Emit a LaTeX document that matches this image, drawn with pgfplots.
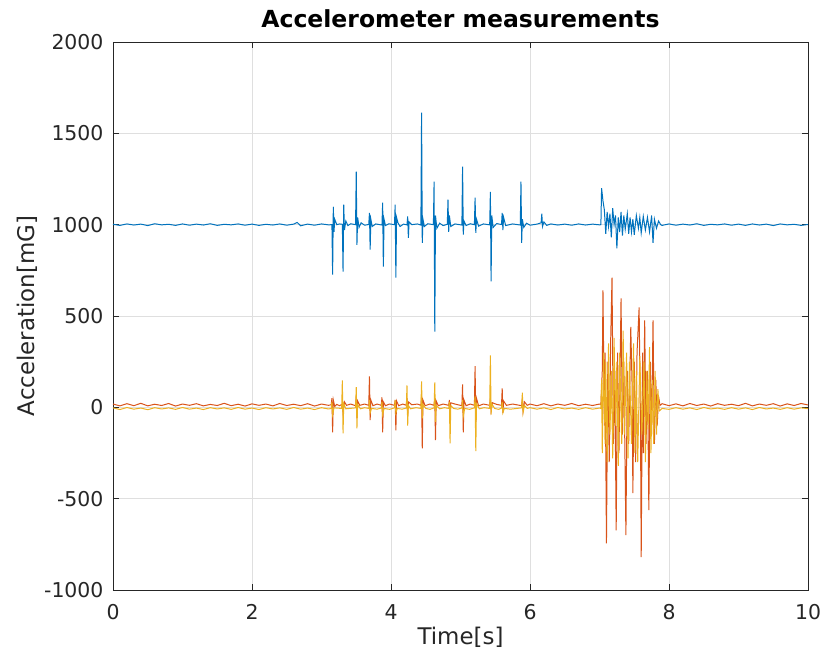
\documentclass[border=0pt]{standalone}
\usepackage{pgfplots}
\pgfplotsset{compat=1.18}
\usepackage{fontspec}
\setmainfont{DejaVu Sans}
\definecolor{mblue}{HTML}{0072BD}
\definecolor{morange}{HTML}{D95319}
\definecolor{myellow}{HTML}{EDB120}
\definecolor{axcol}{HTML}{262626}
\definecolor{gridcol}{HTML}{DFDFDF}
\begin{document}
\begin{tikzpicture}
\begin{axis}[
  scale only axis,
  width=695bp, height=548bp,
  xmin=0, xmax=10, ymin=-1000, ymax=2000,
  xtick={0,2,4,6,8,10}, xticklabels={0,2,4,6,8,10},
  ytick={-1000,-500,0,500,1000,1500,2000},
  yticklabels={-1000,-500,0,500,1000,1500,2000},
  tick align=inside, major tick length=6bp,
  xtick pos=both, ytick pos=both,
  grid=major,
  major grid style={gridcol, line width=0.7bp},
  axis line style={axcol, line width=0.9bp},
  every tick/.style={axcol, line width=0.9bp},
  tick label style={font=\fontsize{20.5}{24}\selectfont, text=axcol},
  yticklabel style={xshift=-6bp},
  xticklabel style={yshift=-11bp},
  label style={font=\fontsize{23}{26}\selectfont, text=axcol},
  xlabel={Time[s]}, ylabel={Acceleration[mG]},
  xlabel style={at={(axis description cs:0.5,-0.0858)}, anchor=center},
  ylabel style={at={(axis description cs:-0.1237,0.5)}, anchor=center, rotate=0},
  title={\textbf{Accelerometer measurements}},
  title style={at={(axis description cs:0.5,1.031)}, anchor=center, font=\fontsize{23.6}{26}\selectfont, text=black},
  clip=true,
]
\addplot[mblue, line width=1bp] coordinates {
(0,1002)(0.1,996)(0.2,1004)(0.3,998)(0.4,1003)(0.5,995)(0.6,1005)(0.7,999)(0.8,1002)(0.9,996)
(1.0,1004)(1.1,997)(1.2,1003)(1.3,998)(1.4,1005)(1.5,996)(1.6,1002)(1.7,999)(1.8,1004)(1.9,997)
(2.0,1003)(2.1,996)(2.2,1002)(2.3,998)(2.4,1004)(2.5,997)(2.6,1003)(2.65,1012)(2.7,994)(2.8,1003)(2.9,997)(3.0,1004)(3.1,999)
(3.15,1000)(3.16,726)(3.17,1098)(3.18,960)(3.19,1030)(3.22,1000)
(3.26,1004)(3.30,1002)(3.31,743)(3.32,1110)(3.33,970)(3.35,1020)(3.38,995)(3.42,1005)
(3.49,1000)(3.50,1290)(3.51,890)(3.52,1040)(3.54,985)(3.57,1010)(3.62,997)
(3.68,1001)(3.69,1065)(3.70,863)(3.71,1030)(3.73,990)(3.78,1004)
(3.87,998)(3.88,1120)(3.89,770)(3.90,1030)(3.92,995)(3.97,1005)
(4.05,1000)(4.06,1110)(4.07,710)(4.08,1040)(4.10,1010)(4.13,990)(4.18,1003)
(4.23,999)(4.24,1045)(4.25,928)(4.26,1015)(4.30,1000)(4.38,1004)
(4.43,998)(4.44,1613)(4.45,900)(4.46,1030)(4.48,990)(4.53,1005)
(4.61,1000)(4.62,1235)(4.63,414)(4.64,1050)(4.66,980)(4.70,1008)(4.75,995)
(4.81,1002)(4.82,1137)(4.83,960)(4.84,1050)(4.86,990)(4.92,1004)
(5.02,998)(5.03,1318)(5.04,945)(5.05,1020)(5.08,995)(5.14,1005)
(5.20,1000)(5.21,1148)(5.22,955)(5.23,1030)(5.26,992)(5.33,1004)
(5.42,999)(5.43,1180)(5.44,690)(5.45,1050)(5.47,985)(5.52,1006)
(5.59,1001)(5.60,1065)(5.61,970)(5.62,1040)(5.65,995)(5.75,1004)
(5.86,998)(5.87,1235)(5.88,900)(5.89,1030)(5.91,985)(5.95,1008)(6.0,997)(6.1,1003)
(6.16,1010)(6.17,1060)(6.18,990)(6.20,1015)(6.24,996)(6.3,1004)(6.4,998)(6.5,1003)(6.6,997)(6.7,1004)(6.8,998)(6.9,1003)(7.0,999)
(7.02,1000)(7.03,1200)(7.05,1130)(7.07,1080)(7.09,950)(7.11,1070)(7.13,990)(7.15,1060)(7.17,930)(7.19,1090)
(7.21,1000)(7.23,1050)(7.25,870)(7.27,1040)(7.29,960)(7.31,1070)(7.33,940)(7.35,1050)(7.37,975)(7.40,1060)
(7.42,950)(7.44,1040)(7.46,960)(7.48,1030)(7.50,945)(7.53,1050)(7.56,980)(7.58,1040)(7.60,955)(7.63,1045)
(7.66,970)(7.69,1040)(7.72,960)(7.75,1050)(7.77,900)(7.79,1030)(7.82,980)(7.85,1020)(7.88,1000)
(7.9,996)(8.0,1004)(8.1,997)(8.2,1003)(8.3,998)(8.4,1005)(8.5,996)(8.6,1002)(8.7,999)(8.8,1004)(8.9,997)
(9.0,1003)(9.1,996)(9.2,1004)(9.3,998)(9.4,1003)(9.5,995)(9.6,1004)(9.7,999)(9.8,1002)(9.9,996)(10.0,1001)
};
\addplot[morange, line width=1bp] coordinates {
(0,18)(0.1,8)(0.2,20)(0.3,9)(0.4,22)(0.5,8)(0.6,17)(0.7,10)(0.8,21)(0.9,7)
(1.0,18)(1.1,11)(1.2,20)(1.3,8)(1.4,16)(1.5,10)(1.6,22)(1.7,9)(1.8,17)(1.9,7)
(2.0,19)(2.1,11)(2.2,18)(2.3,8)(2.4,21)(2.5,10)(2.6,17)(2.7,9)(2.8,20)(2.9,7)(3.0,18)(3.1,11)
(3.14,14)(3.15,50)(3.16,-137)(3.17,40)(3.19,5)(3.22,16)
(3.26,9)(3.30,18)(3.31,-30)(3.33,30)(3.36,11)(3.42,18)
(3.49,9)(3.50,60)(3.51,-60)(3.52,35)(3.55,11)(3.62,18)
(3.68,11)(3.69,170)(3.70,-70)(3.71,40)(3.74,9)(3.80,18)
(3.86,11)(3.87,55)(3.88,-137)(3.89,30)(3.92,9)(3.98,18)
(4.05,11)(4.06,40)(4.07,-126)(4.08,35)(4.11,9)(4.17,18)
(4.22,11)(4.23,50)(4.24,-40)(4.25,30)(4.30,14)(4.38,18)
(4.43,11)(4.44,60)(4.45,-225)(4.46,40)(4.49,9)(4.56,18)
(4.62,11)(4.63,50)(4.64,-180)(4.65,35)(4.68,9)(4.75,18)
(4.83,11)(4.84,40)(4.85,-60)(4.86,25)(4.92,18)
(5.02,9)(5.03,126)(5.04,-137)(5.05,40)(5.08,9)(5.14,18)
(5.20,11)(5.21,225)(5.22,-80)(5.23,50)(5.26,8)(5.33,18)
(5.42,11)(5.43,50)(5.44,-20)(5.46,25)(5.52,16)
(5.59,11)(5.60,104)(5.61,-30)(5.62,35)(5.66,11)(5.75,18)
(5.88,9)(5.89,50)(5.90,-20)(5.92,30)(5.96,11)(6.0,18)
(6.1,9)(6.2,20)(6.3,8)(6.4,18)(6.5,11)(6.6,21)(6.7,9)(6.8,17)(6.9,10)(7.0,18)
(7.02,15)(7.04,200)(7.05,640)(7.07,-100)(7.08,300)(7.10,-745)(7.12,250)(7.14,-300)(7.16,350)(7.18,710)
(7.20,-200)(7.22,200)(7.24,-673)(7.26,300)(7.28,-250)(7.31,597)(7.33,-150)(7.35,250)(7.38,-700)(7.40,200)
(7.42,-200)(7.45,440)(7.47,100)(7.48,-470)(7.50,250)(7.52,-300)(7.54,300)(7.57,547)(7.59,-100)(7.60,-820)
(7.62,300)(7.63,-250)(7.65,476)(7.67,-200)(7.69,200)(7.71,-563)(7.73,250)(7.75,-150)(7.77,476)(7.79,-200)
(7.81,150)(7.83,-100)(7.85,60)(7.87,10)(7.9,20)
(8.0,9)(8.1,19)(8.2,8)(8.3,21)(8.4,10)(8.5,18)(8.6,7)(8.7,20)(8.8,11)(8.9,17)
(9.0,9)(9.1,22)(9.2,8)(9.3,18)(9.4,11)(9.5,20)(9.6,7)(9.7,19)(9.8,10)(9.9,21)(10.0,13)
};
\addplot[myellow, line width=1bp] coordinates {
(0,-3)(0.1,-12)(0.2,-1)(0.3,-10)(0.4,-4)(0.5,-13)(0.6,-2)(0.7,-9)(0.8,-3)(0.9,-11)
(1.0,-1)(1.1,-10)(1.2,-4)(1.3,-12)(1.4,-2)(1.5,-9)(1.6,-3)(1.7,-11)(1.8,-1)(1.9,-10)
(2.0,-4)(2.1,-12)(2.2,-2)(2.3,-9)(2.4,-3)(2.5,-11)(2.6,-1)(2.7,-10)(2.8,-4)(2.9,-12)(3.0,-2)(3.1,-9)
(3.14,-6)(3.15,30)(3.16,-40)(3.18,-3)
(3.29,-6)(3.30,148)(3.31,-142)(3.32,20)(3.35,-8)
(3.49,-3)(3.50,110)(3.51,-115)(3.52,15)(3.56,-8)(3.62,-2)
(3.68,-6)(3.69,40)(3.70,-30)(3.72,-6)(3.80,-10)
(3.86,-4)(3.87,30)(3.88,-40)(3.90,-6)(3.98,-11)
(4.05,-3)(4.06,40)(4.07,-30)(4.09,-6)(4.16,-10)
(4.22,-4)(4.23,120)(4.24,-100)(4.25,10)(4.28,-8)(4.36,-2)
(4.43,-6)(4.44,142)(4.45,-60)(4.46,15)(4.50,-6)(4.56,-11)
(4.62,-3)(4.63,137)(4.64,-80)(4.65,10)(4.70,-8)(4.77,-2)
(4.83,-6)(4.84,30)(4.85,-197)(4.86,10)(4.90,-6)(4.96,-10)
(5.02,-4)(5.03,40)(5.04,-50)(5.06,-6)(5.13,-11)
(5.20,-3)(5.21,60)(5.22,-240)(5.23,20)(5.27,-8)(5.34,-2)
(5.42,-6)(5.43,285)(5.44,-40)(5.45,20)(5.49,-6)(5.55,-11)
(5.59,-4)(5.60,30)(5.61,-30)(5.63,-6)(5.72,-10)
(5.88,-3)(5.89,80)(5.90,-30)(5.92,10)(5.96,-6)
(6.0,-2)(6.1,-10)(6.2,-3)(6.3,-12)(6.4,-1)(6.5,-9)(6.6,-4)(6.7,-11)(6.8,-2)(6.9,-10)(7.0,-4)
(7.02,-6)(7.03,150)(7.04,-250)(7.06,300)(7.08,-200)(7.09,250)(7.11,-300)(7.13,350)(7.15,-150)(7.17,200)
(7.19,-280)(7.21,380)(7.23,-100)(7.25,250)(7.27,-320)(7.29,300)(7.32,-200)(7.34,420)(7.36,-150)(7.39,300)
(7.41,-280)(7.43,250)(7.46,-200)(7.49,350)(7.51,-250)(7.53,200)(7.55,-300)(7.58,280)(7.61,-150)(7.64,250)
(7.66,-300)(7.68,200)(7.70,-120)(7.72,330)(7.74,-250)(7.76,150)(7.78,-200)(7.80,200)(7.82,-150)(7.84,100)
(7.86,-20)(7.9,-6)
(8.0,-11)(8.1,-2)(8.2,-10)(8.3,-3)(8.4,-12)(8.5,-1)(8.6,-9)(8.7,-4)(8.8,-11)(8.9,-2)
(9.0,-10)(9.1,-3)(9.2,-12)(9.3,-1)(9.4,-9)(9.5,-4)(9.6,-11)(9.7,-2)(9.8,-10)(9.9,-3)(10.0,-7)
};
\end{axis}
\pgfresetboundingbox
\useasboundingbox ([xshift=-113bp,yshift=-74bp]current axis.south west) rectangle ([xshift=19bp,yshift=42bp]current axis.north east);
\end{tikzpicture}
\end{document}
